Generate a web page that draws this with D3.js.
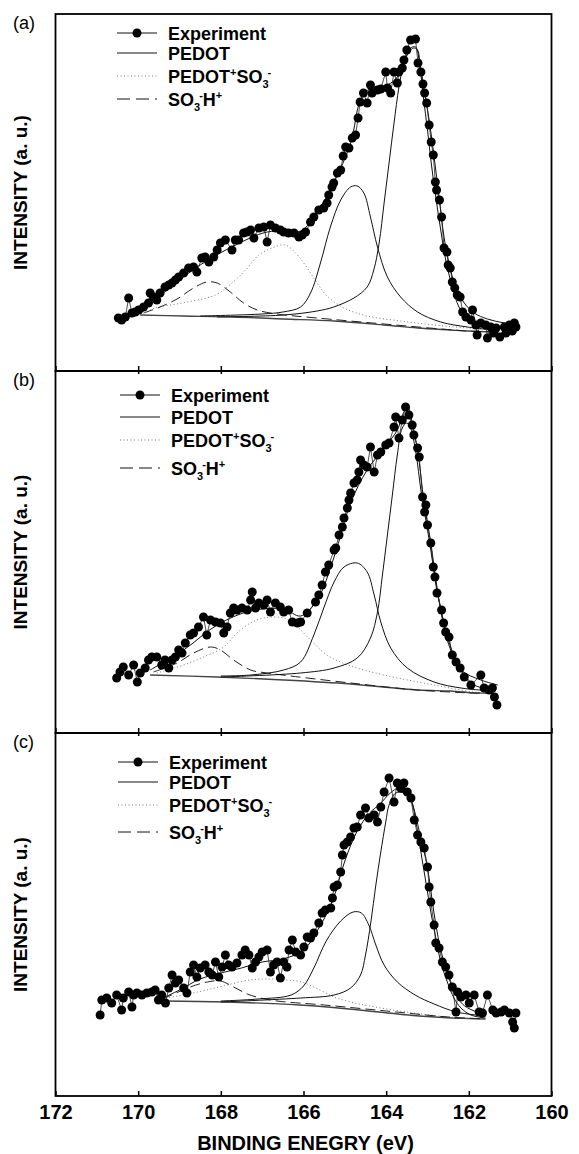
<!DOCTYPE html>
<html>
<head>
<meta charset="utf-8">
<script src="https://cdn.jsdelivr.net/npm/d3@7/dist/d3.min.js"></script>
<style>
body{margin:0;background:#fff;}
svg{display:block;}
text{font-family:"Liberation Sans",Arial,Helvetica,sans-serif;}
</style>
</head>
<body>
<div id="chart"></div>
<script>
// binding energy (eV) / intensity (a. u.)
var energyTicks = [172, 170, 168, 166, 164, 162, 160];
var panelNames = ['(a)', '(b)', '(c)'];
var legendNames = ['Experiment', 'PEDOT', 'PEDOT+SO3-', 'SO3-H+'];

// ---------- (a)
var expA = [[170.48,53],[170.40,51],[170.31,54],[170.23,73],[170.15,58],[170.07,59],[169.99,61],[169.87,64],[169.75,68],[169.71,78],[169.63,74],[169.55,71],[169.47,78],[169.35,84],[169.26,86],[169.18,88],[169.10,91],[169.02,94],[168.90,98],[168.78,103],[168.66,104],[168.58,99],[168.46,113],[168.38,114],[168.29,109],[168.17,114],[168.09,121],[168.01,128],[167.89,131],[167.73,121],[167.65,131],[167.57,131],[167.45,138],[167.37,139],[167.28,141],[167.20,133],[167.08,143],[166.96,144],[166.88,129],[166.80,146],[166.68,143],[166.56,141],[166.48,139],[166.36,138],[166.23,138],[166.11,134],
	[166.03,136],[165.95,139],[165.83,149],[165.75,154],[165.63,161],[165.51,163],[165.43,168],[165.39,176],[165.31,184],[165.27,188],[165.18,198],[165.10,201],[165.04,215],[164.98,224],[164.90,223],[164.82,233],[164.74,236],[164.68,253],[164.63,269],[164.55,278],[164.46,268],[164.38,286],[164.34,278],[164.21,281],[164.13,282],[164.01,299],[163.97,283],[163.89,278],[163.81,299],[163.73,288],[163.69,299],[163.61,303],[163.57,311],[163.50,321],[163.41,331],[163.29,332],[163.23,308],[163.16,299],[163.11,287],[163.07,278],[163.02,268],[162.96,246],[162.91,229],[162.86,216],[162.81,189],[162.78,181],[162.71,171],[162.66,154],[162.60,123],[162.53,119],[162.50,106],[162.45,103],[162.40,89],[162.34,83],[162.28,76],[162.21,74],[162.15,59],[162.07,54],[161.95,51],[161.91,61],[161.83,46],[161.80,36],[161.71,48],[161.59,46],[161.55,33],[161.47,44],[161.40,38],[161.34,43],[161.25,34],[161.14,44],[161.10,38],[161.02,46],[160.95,40],[160.90,48],[160.86,44]];
var fitA = [[169.95,57],[169.30,81],[168.50,106],[167.69,125],[166.88,139],[166.07,140],[165.67,159],[165.27,188],[164.86,228],[164.62,271],[164.38,283],[163.97,286],[163.73,294],[163.57,308],[163.41,323],[163.29,324],[163.20,311],[163.08,281],[162.96,251],[162.84,214],[162.72,174],[162.60,134],[162.48,108],[162.32,84],[162.11,68],[161.87,58],[161.55,52],[161.14,48],[160.82,46]];
var pedot1A = [[168.50,55],[167.00,57],[166.50,59],[166.07,64],[165.83,78],[165.59,108],[165.35,144],[165.10,171],[164.86,184],[164.70,185],[164.54,178],[164.38,154],[164.21,124],[163.97,94],[163.65,74],[163.24,59],[162.68,49],[162.03,44],[161.40,41]];
var pedot2A = [[168.09,54],[166.48,56],[165.67,60],[165.27,64],[164.78,73],[164.46,84],[164.30,101],[164.17,128],[164.05,168],[163.93,208],[163.81,248],[163.69,284],[163.57,308],[163.45,319],[163.33,323],[163.24,321],[163.18,304],[163.10,274],[163.00,241],[162.91,208],[162.80,174],[162.68,141],[162.56,111],[162.40,84],[162.24,64],[162.03,51],[161.71,44],[161.40,41]];
var ionA = [[169.79,59],[169.59,63],[168.94,68],[168.13,76],[167.73,88],[167.40,101],[167.08,116],[166.76,123],[166.44,126],[166.15,116],[165.91,103],[165.67,88],[165.43,75],[165.02,63],[164.46,55],[163.65,50],[162.84,46],[162.03,43],[161.40,41]];
var acidA = [[169.87,58],[169.47,64],[169.06,72],[168.66,83],[168.34,89],[168.09,88],[167.77,79],[167.45,68],[167.12,61],[166.64,57],[165.67,53],[164.05,47],[162.03,40],[161.40,39]];
var baseA = [[169.95,56],[168.90,55],[167.69,54],[166.48,52],[165.26,50],[164.05,46],[163.24,43],[162.44,41],[162.03,40],[161.40,39]];

// ---------- (b)
var expB = [[170.52,55],[170.44,61],[170.36,66],[170.23,58],[170.11,68],[170.02,51],[169.95,60],[169.83,65],[169.75,73],[169.67,76],[169.55,76],[169.43,68],[169.35,73],[169.26,65],[169.18,73],[169.10,76],[169.02,83],[168.94,80],[168.86,90],[168.74,98],[168.66,100],[168.54,106],[168.42,116],[168.34,98],[168.25,113],[168.13,111],[168.01,110],[167.93,100],[167.85,106],[167.77,120],[167.69,125],[167.61,123],[167.49,125],[167.36,123],[167.28,133],[167.24,141],[167.16,125],[167.08,130],[166.96,128],[166.88,133],[166.80,121],[166.68,130],[166.56,126],[166.48,121],[166.36,123],[166.27,111],[166.15,110],
	[166.07,111],[165.91,120],[165.71,131],[165.63,138],[165.55,148],[165.47,161],[165.39,168],[165.26,183],[165.22,185],[165.14,198],[165.06,206],[165.02,215],[164.94,225],[164.90,233],[164.86,240],[164.78,250],[164.70,253],[164.66,261],[164.62,273],[164.54,268],[164.46,266],[164.38,286],[164.29,261],[164.21,278],[164.13,281],[164.01,288],[163.93,290],[163.81,306],[163.77,316],[163.69,295],[163.61,313],[163.53,326],[163.45,318],[163.37,308],[163.33,298],[163.24,285],[163.20,276],[163.12,236],[163.07,221],[163.04,228],[163.00,208],[162.92,190],[162.86,166],[162.82,156],[162.77,140],[162.66,123],[162.61,110],[162.56,101],[162.48,96],[162.40,78],[162.31,71],[162.21,65],[162.11,56],[161.95,48],[161.71,58],[161.63,45],[161.51,43],[161.43,45],[161.38,36],[161.32,28]];
var fitB = [[169.71,63],[168.90,83],[168.09,108],[167.28,122],[166.48,124],[166.07,117],[165.67,133],[165.26,176],[164.86,230],[164.46,263],[164.05,285],[163.73,303],[163.57,321],[163.47,325],[163.37,310],[163.24,283],[163.08,230],[162.92,190],[162.76,143],[162.60,106],[162.44,83],[162.19,63],[161.71,53],[161.30,48]];
var pedot1B = [[168.00,57],[167.28,58],[166.48,63],[166.07,71],[165.75,98],[165.51,125],[165.26,151],[165.02,166],[164.70,170],[164.46,161],[164.29,138],[164.13,111],[163.89,85],[163.49,65],[162.84,51],[162.19,45],[161.40,42]];
var pedot2B = [[168.00,56],[166.07,60],[165.26,65],[164.70,75],[164.38,95],[164.21,121],[164.09,158],[163.97,198],[163.85,238],[163.73,278],[163.61,305],[163.50,310],[163.41,305],[163.28,280],[163.16,243],[163.04,213],[162.92,183],[162.80,150],[162.64,116],[162.44,86],[162.19,63],[161.87,48],[161.40,43]];
var ionB = [[169.55,60],[168.90,68],[168.42,76],[167.93,86],[167.61,100],[167.28,110],[166.96,115],[166.48,115],[166.15,106],[165.83,93],[165.43,78],[164.86,67],[164.05,58],[162.84,48],[161.87,41],[161.40,40]];
var acidB = [[169.63,61],[169.06,70],[168.66,80],[168.25,86],[168.01,83],[167.69,73],[167.28,63],[166.88,60],[166.31,57],[164.86,50],[163.24,43],[161.87,40],[161.40,40]];
var baseB = [[169.71,58],[168.09,56],[166.48,53],[164.86,49],[163.24,43],[162.44,42],[161.87,40],[161.40,40]];

// ---------- (c)
var expC = [[170.92,81],[170.88,96],[170.76,98],[170.64,93],[170.52,101],[170.40,86],[170.36,98],[170.23,104],[170.15,89],[170.11,101],[170.03,103],[169.91,101],[169.79,103],[169.67,104],[169.59,106],[169.51,96],[169.43,101],[169.34,93],[169.26,108],[169.18,121],[169.10,113],[169.02,116],[168.90,108],[168.82,103],[168.74,124],[168.66,131],[168.58,119],[168.50,128],[168.38,131],[168.29,124],[168.21,121],[168.13,134],[168.05,119],[167.97,129],[167.89,141],[167.81,131],[167.73,129],[167.61,133],[167.49,141],[167.41,146],[167.32,141],[167.24,128],[167.16,134],[167.08,139],[167.00,144],[166.88,146],[166.80,124],[166.72,131],[166.64,134],[166.56,118],[166.48,134],[166.40,129],[166.35,146],[166.27,156],[166.19,144],[166.07,141],[165.99,149],[165.91,159],[165.83,158],[165.75,163],[165.63,173],
	[165.55,183],[165.47,186],[165.34,188],[165.30,198],[165.26,209],[165.18,211],[165.10,224],[165.06,241],[165.02,251],[164.94,254],[164.86,259],[164.78,268],[164.70,269],[164.62,281],[164.50,288],[164.42,278],[164.29,281],[164.21,274],[164.13,289],[164.05,304],[163.93,318],[163.81,294],[163.73,313],[163.65,308],[163.57,313],[163.49,304],[163.40,298],[163.32,276],[163.24,261],[163.16,254],[163.08,248],[163.00,229],[162.96,209],[162.92,194],[162.84,171],[162.80,153],[162.72,148],[162.64,134],[162.56,129],[162.48,121],[162.40,109],[162.31,84],[162.27,104],[162.19,99],[162.07,101],[161.99,93],[161.87,101],[161.75,84],[161.67,83],[161.55,101],[161.42,86],[161.34,83],[161.22,84],[161.14,86],[161.02,83],[160.94,74],[160.90,68],[160.86,83]];
var fitC = [[169.40,98],[169.00,106],[168.50,117],[168.00,123],[167.50,128],[167.00,134],[166.50,137],[166.00,146],[165.60,170],[165.30,195],[165.00,235],[164.70,265],[164.40,283],[164.15,292],[163.90,303],[163.70,308],[163.50,305],[163.35,290],[163.20,265],[163.00,228],[162.85,185],[162.70,150],[162.50,120],[162.30,100],[162.10,90],[161.80,84],[161.60,82]];
var pedot1C = [[168.00,95],[167.10,97],[166.30,101],[166.00,110],[165.75,128],[165.45,155],[165.10,175],[164.80,184],[164.60,183],[164.42,171],[164.25,151],[164.05,131],[163.73,114],[163.30,101],[162.84,92],[162.30,84],[161.60,80]];
var pedot2C = [[168.00,94],[166.07,98],[165.26,101],[164.86,108],[164.62,121],[164.50,141],[164.37,174],[164.25,211],[164.13,244],[164.01,274],[163.93,291],[163.77,303],[163.57,303],[163.40,296],[163.28,274],[163.16,244],[163.04,214],[162.92,184],[162.80,158],[162.68,134],[162.52,114],[162.36,98],[162.19,88],[161.95,81],[161.60,78]];
var ionC = [[169.50,97],[169.05,100],[168.45,105],[167.95,110],[167.30,116],[166.90,117],[166.40,116],[166.05,114],[165.60,106],[165.26,99],[164.86,94],[164.40,90],[163.50,84],[162.50,79],[161.60,77]];
var acidC = [[169.40,97],[168.74,109],[168.33,114],[168.01,115],[167.69,109],[167.36,102],[167.04,98],[166.64,95],[165.50,91],[164.00,85],[162.50,79],[161.60,77]];
var baseC = [[169.40,95],[167.90,94],[166.10,91],[164.90,87],[163.20,80],[162.40,78],[162.00,77.5],[161.60,77]];

var panels = [
	{exp: expA, fit: fitA, pedot: [pedot1A, pedot2A], ion: ionA, acid: acidA, base: baseA},
	{exp: expB, fit: fitB, pedot: [pedot1B, pedot2B], ion: ionB, acid: acidB, base: baseB},
	{exp: expC, fit: fitC, pedot: [pedot1C, pedot2C], ion: ionC, acid: acidC, base: baseC}
];

// layout
var W = 579, H = 1154;
var plotLeft = 55.5, plotRight = 551.5;
var panelTop = [14, 371, 733];
var panelBottom = [371, 733, 1096];
// legend row centres (from panel top) and symbol start
var legendRows = [[19, 39, 62, 85], [24, 46, 69, 97], [29, 49, 72, 99]];
var legendX = [117, 120, 118];

var svg = d3.select('#chart').append('svg')
	.attr('width', W)
	.attr('height', H);

var x = d3.scaleLinear().domain([172, 160]).range([plotLeft, plotRight]);

function legendText(sel, name){
	// split the chemical names into plain / sup / sub parts
	var parts;
	if(name == 'PEDOT+SO3-'){
		parts = [['PEDOT',''],['+','sup'],['SO',''],['3','sub'],['-','sup']];
	} else if(name == 'SO3-H+'){
		parts = [['SO',''],['3','sub'],['-','sup'],['H',''],['+','sup']];
	} else {
		parts = [[name,'']];
	}
	var shift = {'': 0, 'sup': -7, 'sub': 5};
	var prev = '';
	parts.forEach(function(p, k){
		var t = sel.append('tspan')
			.attr('dy', shift[p[1]] - shift[prev])
			.style('font-size', p[1] ? '11px' : '18px')
			.text(p[0]);
		if(p[1] == 'sup' && prev == 'sub') t.attr('dx', -1);
		prev = p[1];
	});
}

panels.forEach(function(p, i){
	var top = panelTop[i], bottom = panelBottom[i];
	var y = d3.scaleLinear().domain([0, bottom - top]).range([bottom, top]);
	var g = svg.append('g').attr('id', 'panel' + i);

	var straight = d3.line()
		.x(function(d){ return x(d[0]); })
		.y(function(d){ return y(d[1]); });
	var smooth = d3.line()
		.x(function(d){ return x(d[0]); })
		.y(function(d){ return y(d[1]); })
		.curve(d3.curveCatmullRom.alpha(0.5));

	// baseline
	g.append('path').datum(p.base)
		.attr('d', smooth)
		.attr('fill', 'none')
		.attr('stroke', '#444')
		.attr('stroke-width', 1.4);

	// PEDOT+SO3- (dotted)
	g.append('path').datum(p.ion)
		.attr('d', smooth)
		.attr('fill', 'none')
		.attr('stroke', '#777')
		.attr('stroke-width', 1)
		.attr('stroke-dasharray', '1,2.5');

	// SO3-H+ (dashed)
	g.append('path').datum(p.acid)
		.attr('d', smooth)
		.attr('fill', 'none')
		.attr('stroke', '#222')
		.attr('stroke-width', 1)
		.attr('stroke-dasharray', '10,5');

	// PEDOT doublet (solid)
	g.selectAll('path.pedot')
		.data(p.pedot)
		.enter()
		.append('path')
		.attr('class', 'pedot')
		.attr('d', smooth)
		.attr('fill', 'none')
		.attr('stroke', '#111')
		.attr('stroke-width', 1);

	// envelope of the fit
	g.append('path').datum(p.fit)
		.attr('d', smooth)
		.attr('fill', 'none')
		.attr('stroke', '#111')
		.attr('stroke-width', 1);

	// experiment, dots joined by a thin line
	var exp = p.exp.slice().sort(function(a, b){ return b[0] - a[0]; });
	g.append('path').datum(exp)
		.attr('d', straight)
		.attr('fill', 'none')
		.attr('stroke', '#222')
		.attr('stroke-width', 0.8);
	g.selectAll('circle.exp')
		.data(exp)
		.enter()
		.append('circle')
		.attr('class', 'exp')
		.attr('cx', function(d){ return x(d[0]); })
		.attr('cy', function(d){ return y(d[1]); })
		.attr('r', 4.5)
		.attr('fill', '#000');

	// ticks pointing inward at the bottom of every panel
	var last = (i == panels.length - 1);
	var axis = d3.axisBottom(x)
		.tickValues(energyTicks)
		.tickSizeInner(-5)
		.tickSizeOuter(0)
		.tickPadding(9)
		.tickFormat(last ? d3.format('d') : '');
	var ax = g.append('g')
		.attr('transform', 'translate(0,' + bottom + ')')
		.call(axis);
	ax.select('.domain').remove();
	ax.selectAll('line').attr('stroke', '#000').attr('stroke-width', 1.5);
	ax.selectAll('text')
		.attr('fill', '#000')
		.style('font-size', '20px')
		.style('font-weight', 'bold')
		.style('font-family', '"Liberation Sans",Arial,sans-serif');

	if(i > 0){
		var axTop = g.append('g')
			.attr('transform', 'translate(0,' + top + ')')
			.call(d3.axisTop(x).tickValues(energyTicks.slice(1, -1)).tickSizeInner(-3).tickSizeOuter(0).tickFormat(''));
		axTop.select('.domain').remove();
		axTop.selectAll('line').attr('stroke', '#000').attr('stroke-width', 1.5);
	}

	// frame
	g.append('rect')
		.attr('x', plotLeft)
		.attr('y', top)
		.attr('width', plotRight - plotLeft)
		.attr('height', bottom - top)
		.attr('fill', 'none')
		.attr('stroke', '#000')
		.attr('stroke-width', 1.8);

	// panel letter
	g.append('text')
		.attr('x', 13)
		.attr('y', top + 15)
		.style('font-size', '18px')
		.text(panelNames[i]);

	// y title
	g.append('text')
		.attr('transform', 'translate(27,' + (top + bottom) / 2 + ') rotate(-90)')
		.attr('text-anchor', 'middle')
		.style('font-size', '19px')
		.style('font-weight', 'bold')
		.text('INTENSITY (a. u.)');

	// legend
	var lx = legendX[i];
	var leg = g.selectAll('g.legend')
		.data(legendNames)
		.enter()
		.append('g')
		.attr('class', 'legend')
		.attr('transform', function(d, k){ return 'translate(' + lx + ',' + (top + legendRows[i][k]) + ')'; });
	leg.append('line')
		.attr('x1', 0).attr('x2', 40)
		.attr('y1', 0).attr('y2', 0)
		.attr('fill', 'none')
		.attr('stroke', function(d, k){ return k == 2 ? '#777' : '#111'; })
		.attr('stroke-width', 1)
		.attr('stroke-dasharray', function(d, k){ return k == 2 ? '1,2.5' : (k == 3 ? '13,6' : null); });
	leg.filter(function(d, k){ return k == 0; })
		.append('circle')
		.attr('cx', 20).attr('cy', 0).attr('r', 4.5)
		.attr('fill', '#000');
	leg.append('text')
		.attr('x', 51)
		.attr('y', 6.5)
		.style('font-size', '18px')
		.style('font-weight', 'bold')
		.each(function(d){ legendText(d3.select(this), d); });
});

// x title
svg.append('text')
	.attr('x', (plotLeft + plotRight) / 2 + 2)
	.attr('y', 1150)
	.attr('text-anchor', 'middle')
	.style('font-size', '20px')
	.style('font-weight', 'bold')
	.text('BINDING ENEGRY (eV)');
</script>
</body>
</html>
